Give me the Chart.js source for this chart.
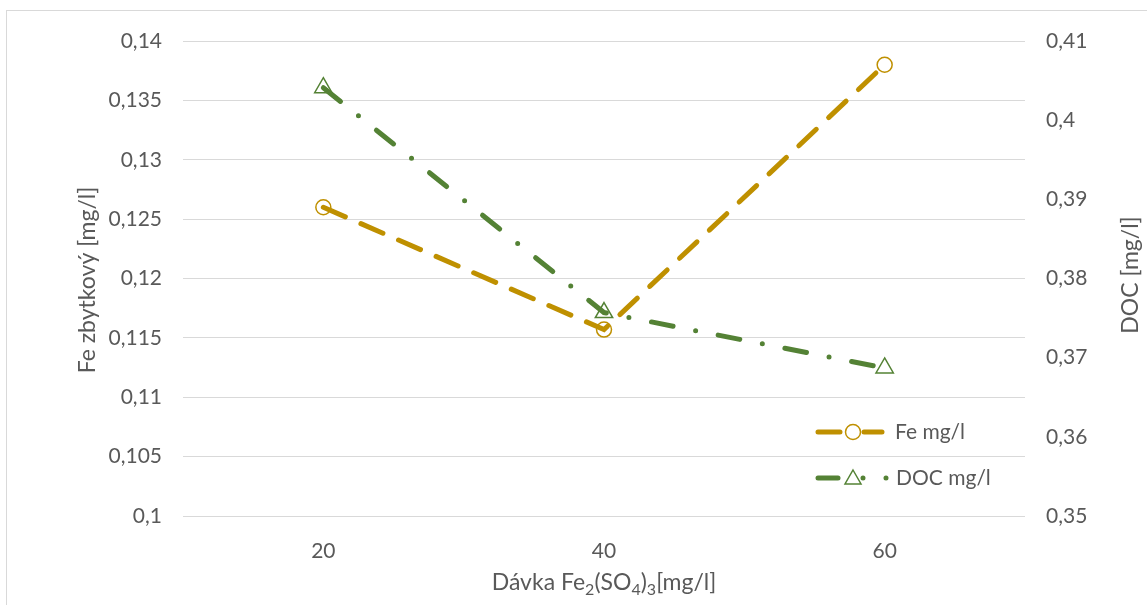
<!DOCTYPE html>
<html>
<head>
<meta charset="utf-8">
<script src="https://cdn.jsdelivr.net/npm/chart.js@4.4.0/dist/chart.umd.min.js"></script>
<style>
  html, body { margin: 0; padding: 0; background: #fff; }
  #wrap { width: 1147px; height: 605px; position: relative; }
</style>
</head>
<body>
<div id="wrap"><canvas id="chart" width="1147" height="605"></canvas></div>
<script>
// Data
const doses = ['20', '40', '60'];
const feValues = [0.126, 0.1157, 0.138];
const docValues = [0.4041, 0.3757, 0.3687];

const feTicks = { min: 0.1, max: 0.14, step: 0.005 };
const docTicks = { min: 0.35, max: 0.41, step: 0.01 };

const feLabel = 'Fe mg/l';
const docLabel = 'DOC mg/l';

const GOLD = '#BF9000';
const GREEN = '#548235';
const TEXT = '#595959';
const FONT = "Lato, 'Open Sans', sans-serif";

function commaNum(v) {
    return String(parseFloat(v.toFixed(4))).replace('.', ',');
}

// draws frame, axis titles and the in-plot legend
const decor = {
    id: 'decor',
    beforeDraw(chart) {
        const ctx = chart.ctx;
        ctx.save();
        ctx.fillStyle = '#fff';
        ctx.fillRect(0, 0, chart.width, chart.height);
        ctx.strokeStyle = '#D9D9D9';
        ctx.lineWidth = 1;
        ctx.strokeRect(6.5, 10.5, chart.width + 20, chart.height + 20);
        ctx.restore();
    },
    afterDraw(chart) {
        const ctx = chart.ctx;
        const area = chart.chartArea;
        ctx.save();
        ctx.fillStyle = TEXT;
        ctx.textBaseline = 'middle';

        // left axis title
        ctx.font = '23px ' + FONT;
        ctx.textAlign = 'center';
        ctx.save();
        ctx.translate(88, 280);
        ctx.rotate(-Math.PI / 2);
        ctx.fillText('Fe zbytkový [mg/l]', 0, 0);
        ctx.restore();

        // right axis title
        ctx.save();
        ctx.translate(1131, 275);
        ctx.rotate(-Math.PI / 2);
        ctx.fillText('DOC [mg/l]', 0, 0);
        ctx.restore();

        // x axis title with subscripts
        const parts = [
            ['Dávka Fe', false], ['2', true], ['(SO', false], ['4', true], [')', false], ['3', true], ['[mg/l]', false]
        ];
        const big = '23px ' + FONT;
        const small = '16px ' + FONT;
        let total = 0;
        parts.forEach(p => { ctx.font = p[1] ? small : big; total += ctx.measureText(p[0]).width; });
        let x = (area.left + area.right) / 2 - total / 2;
        const y = 583;
        ctx.textAlign = 'left';
        parts.forEach(p => {
            ctx.font = p[1] ? small : big;
            ctx.fillText(p[0], x, p[1] ? y + 7 : y);
            x += ctx.measureText(p[0]).width;
        });

        // legend
        const lx = area.right - 207;
        const y1 = 432, y2 = 478;
        ctx.lineCap = 'round';
        ctx.lineWidth = 5;
        ctx.strokeStyle = GOLD;
        ctx.beginPath();
        ctx.moveTo(lx, y1); ctx.lineTo(lx + 22, y1);
        ctx.moveTo(lx + 46, y1); ctx.lineTo(lx + 64, y1);
        ctx.stroke();
        ctx.lineWidth = 1.5;
        ctx.beginPath();
        ctx.arc(lx + 35, y1, 7.5, 0, Math.PI * 2);
        ctx.stroke();

        ctx.strokeStyle = GREEN;
        ctx.fillStyle = GREEN;
        ctx.lineWidth = 5;
        ctx.beginPath();
        ctx.moveTo(lx, y2); ctx.lineTo(lx + 20, y2);
        ctx.stroke();
        ctx.lineWidth = 1.5;
        ctx.beginPath();
        ctx.moveTo(lx + 35, y2 - 8);
        ctx.lineTo(lx + 43, y2 + 6);
        ctx.lineTo(lx + 27, y2 + 6);
        ctx.closePath();
        ctx.stroke();
        ctx.beginPath();
        ctx.arc(lx + 45, y2, 2.5, 0, Math.PI * 2);
        ctx.arc(lx + 68, y2, 2.5, 0, Math.PI * 2);
        ctx.fill();

        ctx.fillStyle = TEXT;
        ctx.font = '21px ' + FONT;
        ctx.fillText(feLabel, lx + 77, y1);
        ctx.fillText(docLabel, lx + 78, y2);
        ctx.restore();
    }
};

new Chart(document.getElementById('chart'), {
    type: 'line',
    data: {
        labels: doses,
        datasets: [
            {
                label: feLabel,
                data: feValues,
                yAxisID: 'y',
                order: 1,
                borderColor: GOLD,
                borderWidth: 5,
                borderDash: [24, 17],
                borderCapStyle: 'round',
                tension: 0,
                pointStyle: 'circle',
                pointRadius: 7.5,
                pointBorderWidth: 1.5,
                pointBorderColor: GOLD,
                pointBackgroundColor: 'rgba(0,0,0,0)'
            },
            {
                label: docLabel,
                data: docValues,
                yAxisID: 'y1',
                order: 0,
                borderColor: GREEN,
                borderWidth: 5,
                borderDash: [22, 23, 0, 23],
                borderCapStyle: 'round',
                tension: 0,
                pointStyle: 'triangle',
                pointRadius: 10,
                pointBorderWidth: 1.5,
                pointBorderColor: GREEN,
                pointBackgroundColor: 'rgba(0,0,0,0)'
            }
        ]
    },
    options: {
        responsive: false,
        animation: false,
        layout: { padding: { top: 41, left: 0, right: 0, bottom: 0 } },
        plugins: {
            legend: { display: false },
            tooltip: { enabled: false }
        },
        scales: {
            x: {
                type: 'category',
                offset: true,
                grid: { display: false },
                border: { display: false },
                ticks: { color: TEXT, font: { family: FONT, size: 21 }, padding: 15 },
                afterFit(scale) { scale.height = 89; }
            },
            y: {
                position: 'left',
                min: feTicks.min,
                max: feTicks.max,
                grid: { color: '#D9D9D9', lineWidth: 1, drawTicks: false },
                border: { display: false },
                ticks: {
                    stepSize: feTicks.step,
                    color: TEXT,
                    font: { family: FONT, size: 21 },
                    padding: 21,
                    callback: v => commaNum(v)
                },
                afterFit(scale) { scale.width = 183; }
            },
            y1: {
                position: 'right',
                min: docTicks.min,
                max: docTicks.max,
                grid: { display: false, drawTicks: false },
                border: { display: false },
                ticks: {
                    stepSize: docTicks.step,
                    color: TEXT,
                    font: { family: FONT, size: 21 },
                    padding: 21,
                    callback: v => commaNum(v)
                },
                afterFit(scale) { scale.width = 122; }
            }
        }
    },
    plugins: [decor]
});
</script>
</body>
</html>
